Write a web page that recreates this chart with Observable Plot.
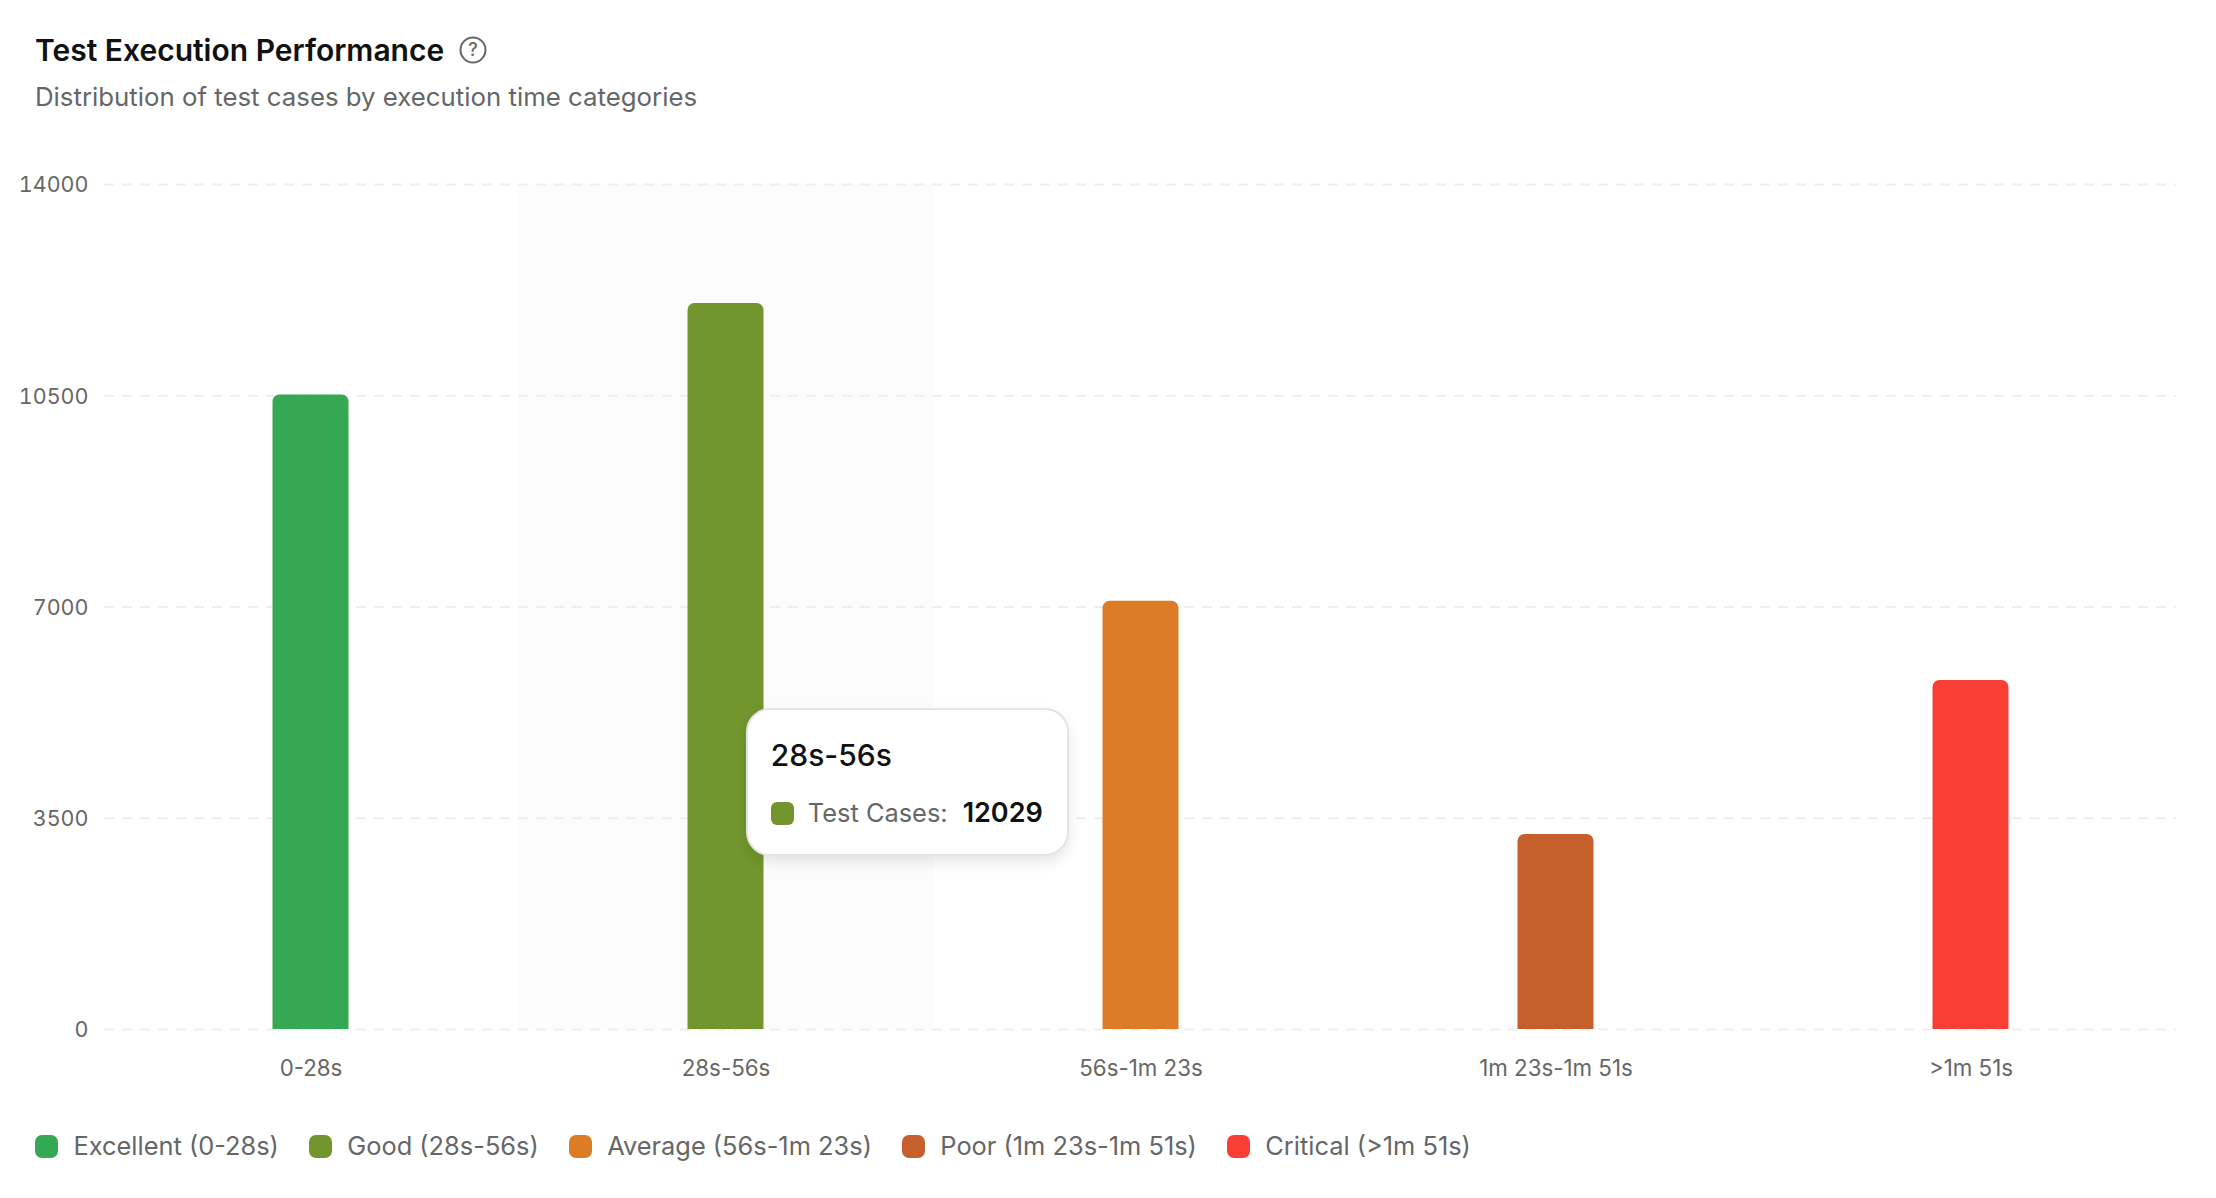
<!DOCTYPE html>
<html>
<head>
<meta charset="utf-8">
<script src="https://cdn.jsdelivr.net/npm/d3@7"></script>
<script src="https://cdn.jsdelivr.net/npm/@observablehq/plot@0.6"></script>
<style>
html,body{margin:0;padding:0;background:#fff;font-family:Inter,"Noto Sans",sans-serif;}
#page{position:relative;width:2216px;height:1198px;overflow:hidden;}
#head{position:absolute;left:35px;top:32px;}
#title{font-size:30px;font-weight:600;color:#111;line-height:36px;display:flex;align-items:center;gap:15px;}
#sub{font-size:25.8px;color:#666;line-height:32px;margin-top:13px;}
#chart{position:absolute;left:0;top:140px;}
#legend{position:absolute;left:35px;top:1130px;display:flex;gap:29.9px;font-size:25.4px;color:#666;line-height:32px;white-space:nowrap;}
#legend div{display:flex;align-items:center;gap:15.5px;}
#legend i{width:23px;height:23px;border-radius:7px;display:block;flex:none;}
#tip{position:absolute;width:323px;height:148px;box-sizing:border-box;background:#fff;border:2px solid #e4e4e4;border-radius:24px;box-shadow:0 6px 14px rgba(0,0,0,.10);padding:0 23px;white-space:nowrap;}
#tip .t{font-size:30px;font-weight:500;color:#111;margin-top:27px;line-height:36px;}
#tip .r{display:flex;align-items:center;font-size:25.4px;color:#666;margin-top:24px;line-height:32px;}
#tip .r i{width:23px;height:23px;border-radius:6px;margin-right:14px;display:block;flex:none;}
#tip .r b{font-weight:600;color:#111;margin-left:15px;font-size:27px;}
</style>
</head>
<body>
<div id="page">
  <div id="head">
    <div id="title"><span>Test Execution Performance</span>
      <svg width="28" height="28" viewBox="0 0 28 28"><circle cx="14" cy="14" r="12.5" fill="none" stroke="#666" stroke-width="2"/><text x="14" y="20" text-anchor="middle" font-size="18" font-weight="500" fill="#666">?</text></svg>
    </div>
    <div id="sub">Distribution of test cases by execution time categories</div>
  </div>
  <div id="chart"></div>
  <div id="legend"></div>
  <div id="tip"></div>
</div>
<script>
const categories = ["0-28s","28s-56s","56s-1m 23s","1m 23s-1m 51s",">1m 51s"];
const testCases = [10512,12029,7094,3230,5783];
const barColors = ["#34a853","#72962d","#dc7c26","#c5602c","#fb3e35"];
const legendLabels = ["Excellent (0-28s)","Good (28s-56s)","Average (56s-1m 23s)","Poor (1m 23s-1m 51s)","Critical (>1m 51s)"];
const yTicks = [0,3500,7000,10500,14000];
const highlighted = "28s-56s";

const rows = categories.map((c,i)=>({category:c,value:testCases[i]}));
const width = 2216, height = 950;
const plot = Plot.plot({
  width, height,
  marginTop:44, marginBottom:61, marginLeft:103, marginRight:38,
  style:{fontFamily:"Inter,'Noto Sans',sans-serif",fontSize:"22px",color:"#666",background:"transparent",overflow:"visible"},
  x:{domain:categories,padding:0,label:null},
  y:{domain:[0,14000],ticks:yTicks,label:null},
  color:{domain:categories,range:barColors},
  marks:[
    Plot.barY([highlighted],{x:d=>d,y1:0,y2:14000,fill:"#fcfcfc",inset:0}),
    Plot.ruleY(yTicks,{stroke:"#eeeeee",strokeWidth:2,strokeDasharray:"10 8",insetRight:2,insetLeft:1}),
    Plot.barY(rows,{x:"category",y:"value",fill:"category",insetLeft:169.5,insetRight:169.5,rx1y1:7,rx2y1:7}),
    Plot.axisX({tickSize:0,tickPadding:31,fontSize:22.3,fill:"#666",label:null}),
    Plot.axisY({ticks:yTicks,tickFormat:d=>String(d),tickSize:0,tickPadding:15,fontSize:21.5,dy:1,fill:"#666",label:null})
  ]
});
document.getElementById("chart").appendChild(plot);

const legend = document.getElementById("legend");
legendLabels.forEach((l,i)=>{
  const d=document.createElement("div");
  const sw=document.createElement("i"); sw.style.background=barColors[i];
  const s=document.createElement("span"); s.textContent=l;
  d.append(sw,s); legend.append(d);
});

const hi = categories.indexOf(highlighted);
const tip = document.getElementById("tip");
tip.innerHTML = `<div class="t"></div><div class="r"><i></i><span>Test Cases:</span><b></b></div>`;
tip.querySelector(".t").textContent = highlighted;
tip.querySelector("i").style.background = barColors[hi];
tip.querySelector("b").textContent = testCases[hi];
const xs = plot.scale("x"), ys = plot.scale("y");
tip.style.left = (xs.apply(highlighted) + xs.bandwidth*0.549) + "px";
tip.style.top = (140 + ys.apply(0) - 321) + "px";
</script>
</body>
</html>
